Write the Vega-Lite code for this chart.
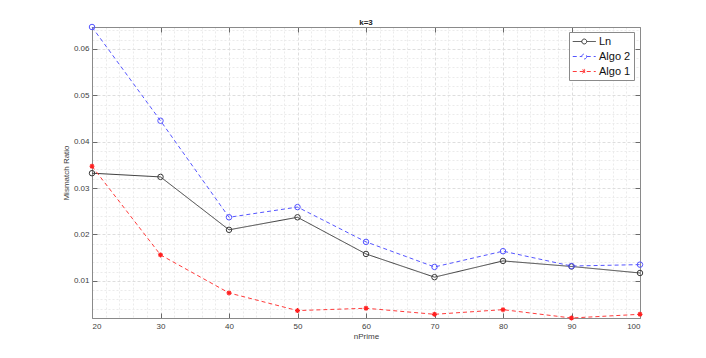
{
  "$schema": "https://vega.github.io/schema/vega-lite/v6.json",
  "width": 548,
  "height": 291,
  "autosize": {"type": "none"},
  "padding": {"left": 92, "top": 27, "right": 66, "bottom": 40},
  "background": "white",
  "title": {"text": "k=3", "fontSize": 8, "fontWeight": "bold", "font": "Liberation Sans", "color": "#222222", "anchor": "middle", "offset": -5},
  "config": {
    "font": "Liberation Sans",
    "view": {"stroke": null},
    "axis": {"labelFont": "Liberation Sans", "labelFontSize": 8, "labelColor": "#404040", "titleFont": "Liberation Sans", "titleFontSize": 8, "titleFontWeight": "normal", "titleColor": "#404040", "domainColor": "#8a8a8a", "tickColor": "#6a6a6a"}
  },
  "data": {"values": [
    {"nPrime": 20, "series": "Ln", "ratio": 0.0332},
    {"nPrime": 30, "series": "Ln", "ratio": 0.0324},
    {"nPrime": 40, "series": "Ln", "ratio": 0.0210},
    {"nPrime": 50, "series": "Ln", "ratio": 0.0237},
    {"nPrime": 60, "series": "Ln", "ratio": 0.0158},
    {"nPrime": 70, "series": "Ln", "ratio": 0.0108},
    {"nPrime": 80, "series": "Ln", "ratio": 0.0143},
    {"nPrime": 90, "series": "Ln", "ratio": 0.0131},
    {"nPrime": 100, "series": "Ln", "ratio": 0.0117},
    {"nPrime": 20, "series": "Algo 2", "ratio": 0.0647},
    {"nPrime": 30, "series": "Algo 2", "ratio": 0.0445},
    {"nPrime": 40, "series": "Algo 2", "ratio": 0.0237},
    {"nPrime": 50, "series": "Algo 2", "ratio": 0.0259},
    {"nPrime": 60, "series": "Algo 2", "ratio": 0.0184},
    {"nPrime": 70, "series": "Algo 2", "ratio": 0.0130},
    {"nPrime": 80, "series": "Algo 2", "ratio": 0.0164},
    {"nPrime": 90, "series": "Algo 2", "ratio": 0.0132},
    {"nPrime": 100, "series": "Algo 2", "ratio": 0.0135},
    {"nPrime": 20, "series": "Algo 1", "ratio": 0.0347},
    {"nPrime": 30, "series": "Algo 1", "ratio": 0.0156},
    {"nPrime": 40, "series": "Algo 1", "ratio": 0.0074},
    {"nPrime": 50, "series": "Algo 1", "ratio": 0.0036},
    {"nPrime": 60, "series": "Algo 1", "ratio": 0.0041},
    {"nPrime": 70, "series": "Algo 1", "ratio": 0.0028},
    {"nPrime": 80, "series": "Algo 1", "ratio": 0.0038},
    {"nPrime": 90, "series": "Algo 1", "ratio": 0.0020},
    {"nPrime": 100, "series": "Algo 1", "ratio": 0.0028}
  ]},
  "resolve": {"axis": {"x": "independent", "y": "independent"}},
  "layer": [
    {
      "mark": {"type": "line", "opacity": 0},
      "encoding": {
        "x": {"field": "nPrime", "type": "quantitative", "scale": {"domain": [20, 100], "nice": false, "zero": false},
              "axis": {"orient": "bottom", "values": [22,24,26,28,32,34,36,38,42,44,46,48,52,54,56,58,62,64,66,68,72,74,76,78,82,84,86,88,92,94,96,98], "grid": true, "gridColor": "#ebebeb", "gridDash": [2, 2], "labels": false, "ticks": false, "domain": false, "title": null}},
        "y": {"field": "ratio", "type": "quantitative", "scale": {"domain": [0.002, 0.0647], "nice": false, "zero": false},
              "axis": {"orient": "left", "values": [0.002,0.004,0.006,0.008,0.012,0.014,0.016,0.018,0.022,0.024,0.026,0.028,0.032,0.034,0.036,0.038,0.042,0.044,0.046,0.048,0.052,0.054,0.056,0.058,0.062,0.064], "grid": true, "gridColor": "#ebebeb", "gridDash": [2, 2], "labels": false, "ticks": false, "domain": false, "title": null}},
        "detail": {"field": "series"}
      }
    },
    {
      "mark": {"type": "line", "opacity": 0},
      "encoding": {
        "x": {"field": "nPrime", "type": "quantitative",
              "axis": {"orient": "top", "values": [20,30,40,50,60,70,80,90,100], "grid": false, "labels": false, "ticks": true, "tickSize": -5, "domain": true, "title": null}},
        "y": {"field": "ratio", "type": "quantitative",
              "axis": {"orient": "right", "values": [0.01,0.02,0.03,0.04,0.05,0.06], "grid": false, "labels": false, "ticks": true, "tickSize": -5, "domain": true, "title": null}},
        "detail": {"field": "series"}
      }
    },
    {
      "mark": {"type": "line", "strokeWidth": 1},
      "encoding": {
        "x": {"field": "nPrime", "type": "quantitative",
              "axis": {"orient": "bottom", "values": [20,30,40,50,60,70,80,90,100], "grid": true, "gridColor": "#dedede", "gridDash": [3, 2], "tickSize": -5, "labelPadding": 9, "title": "nPrime", "titlePadding": 2}},
        "y": {"field": "ratio", "type": "quantitative",
              "axis": {"orient": "left", "values": [0.01,0.02,0.03,0.04,0.05,0.06], "format": ".2f", "grid": true, "gridColor": "#dedede", "gridDash": [3, 2], "tickSize": -5, "labelPadding": 8, "title": "Mismatch Ratio", "titlePadding": 3}},
        "color": {"field": "series", "type": "nominal", "scale": {"domain": ["Ln", "Algo 2", "Algo 1"], "range": ["#3a3a3a", "#5555ff", "#ff3b3b"]},
                  "legend": {"title": null, "orient": "none", "legendX": 477, "legendY": 5, "fillColor": "white", "strokeColor": "#8a8a8a", "padding": 3, "labelFontSize": 11, "labelFont": "Liberation Sans", "labelColor": "#111111", "symbolSize": 132, "symbolStrokeWidth": 1, "symbolFillColor": "transparent", "rowPadding": 3, "labelOffset": 14,
                    "encode": {"symbols": {"update": {"shape": {"signal": "datum.value === 'Algo 1' ? 'M-1,0L3,0M1,-0.45L1,0.45M0.68,-0.32L1.32,0.32M0.68,0.32L1.32,-0.32' : 'M-1,0L0.57,0M1.43,0L3,0M1.43,0A0.43,0.43 0 1,1 0.57,0A0.43,0.43 0 1,1 1.43,0'"}, "fill": {"value": "transparent"}, "size": {"value": 132}}}}}},
        "strokeDash": {"field": "series", "type": "nominal", "scale": {"domain": ["Ln", "Algo 2", "Algo 1"], "range": [[1, 0], [4, 3], [4, 3]]}, "legend": {"title": null}}
      }
    },
    {
      "transform": [{"filter": "datum.series !== 'Algo 1'"}],
      "mark": {"type": "point", "shape": "circle", "filled": false, "strokeWidth": 1, "size": 30, "opacity": 1},
      "encoding": {
        "x": {"field": "nPrime", "type": "quantitative", "axis": null},
        "y": {"field": "ratio", "type": "quantitative", "axis": null},
        "stroke": {"field": "series", "type": "nominal", "scale": {"domain": ["Ln", "Algo 2", "Algo 1"], "range": ["#3a3a3a", "#5555ff", "#ff2020"]}, "legend": null}
      }
    },
    {
      "transform": [{"filter": "datum.series === 'Algo 1'"}],
      "mark": {"type": "point", "shape": "M-1,0L1,0M0,-1L0,1M-0.7,-0.7L0.7,0.7M-0.7,0.7L0.7,-0.7", "filled": false, "strokeWidth": 1.2, "size": 25, "opacity": 1, "color": "#ff2020"},
      "encoding": {
        "x": {"field": "nPrime", "type": "quantitative", "axis": null},
        "y": {"field": "ratio", "type": "quantitative", "axis": null}
      }
    }
  ]
}
